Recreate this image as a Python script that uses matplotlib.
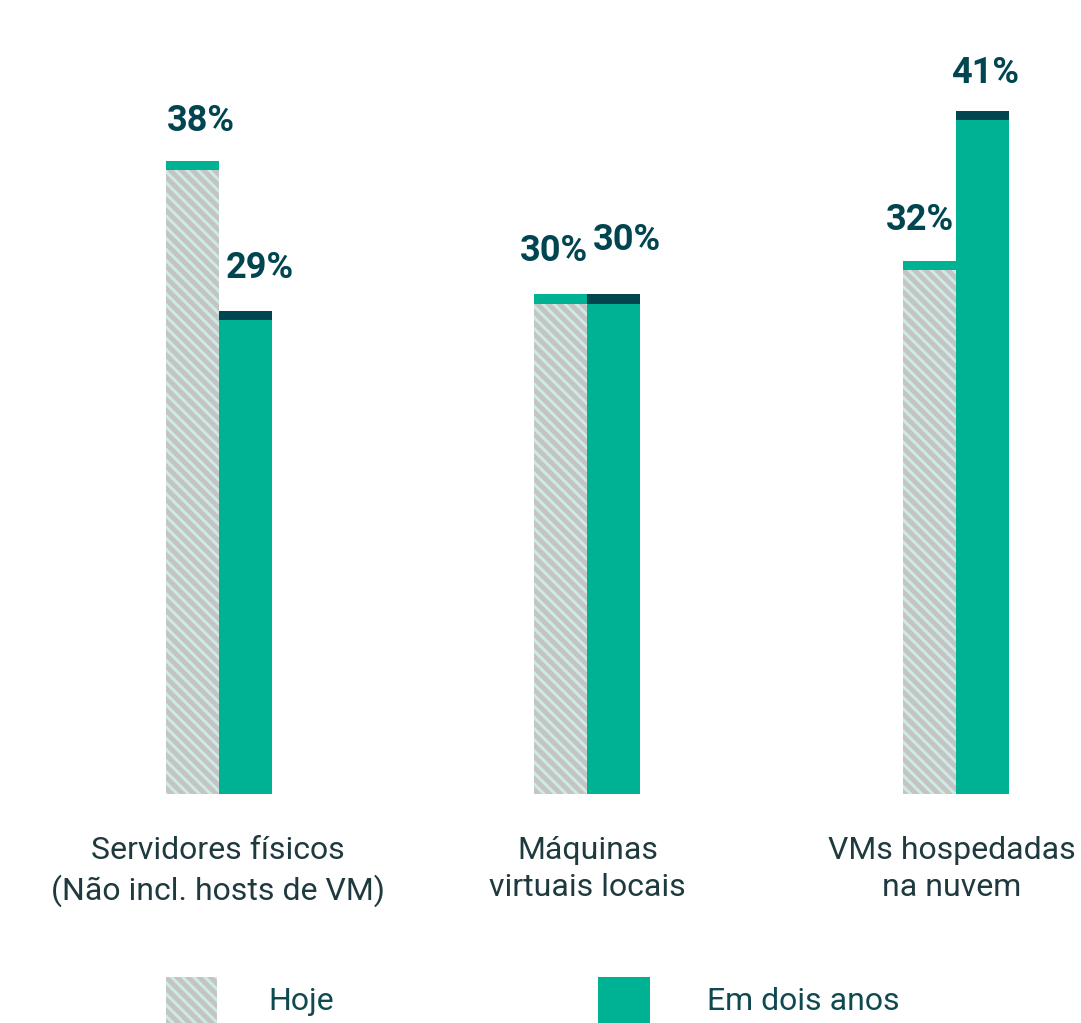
import matplotlib.pyplot as plt
from matplotlib.patches import Rectangle
import numpy as np

plt.rcParams['font.family'] = ['Roboto', 'DejaVu Sans']
plt.rcParams['hatch.linewidth'] = 3.5

# data
categories = ['Servidores físicos\n(Não incl. hosts de VM)',
              'Máquinas\nvirtuais locais',
              'VMs hospedadas\nna nuvem']
hoje = [38, 30, 32]
em_dois_anos = [29, 30, 41]
series_names = ['Hoje', 'Em dois anos']

teal = '#00b294'
dark = '#00454f'
mint = '#cdebe3'
gray = '#c4c4c4'
text_col = '#0f4a50'

# label nudges (points) for each bar
hoje_dx = [6, -5, -7]
em_dx = [10, 9, 2]
hoje_dy = [16, 18, 17]
em_dy = [18, 26, 15]

fig = plt.figure(figsize=(10.81, 10.23), dpi=100, facecolor='w')
ax = fig.add_axes([0, 0.2239, 1, 0.7761])

x = np.arange(len(categories))
w = 0.1438
cap = 0.55  # thickness of the coloured cap on each bar

ax.bar(x - w / 2, hoje, w, color=mint, edgecolor=gray, hatch='\\\\\\', linewidth=0)
ax.bar(x - w / 2, [cap] * len(hoje), w, bottom=np.array(hoje) - cap, color=teal, linewidth=0)
ax.bar(x + w / 2, em_dois_anos, w, color=teal, linewidth=0)
ax.bar(x + w / 2, [cap] * len(em_dois_anos), w, bottom=np.array(em_dois_anos) - cap,
       color=dark, linewidth=0)

for xi, v, dx, dy in zip(x - w / 2, hoje, hoje_dx, hoje_dy):
    ax.annotate(f'{v}%', (xi, v), xytext=(dx, dy), textcoords='offset points',
                ha='center', va='bottom', fontsize=26, fontweight='bold', color=dark)
for xi, v, dx, dy in zip(x + w / 2, em_dois_anos, em_dx, em_dy):
    ax.annotate(f'{v}%', (xi, v), xytext=(dx, dy), textcoords='offset points',
                ha='center', va='bottom', fontsize=26, fontweight='bold', color=dark)

ax.set_xlim(-0.594, 2.339)
ax.set_ylim(0, 794 / 16.65)
ax.axis('off')

# category labels
for xi, c, dx in zip(x, categories, [-1, 0, -3]):
    ax.annotate(c, (xi, 0), xytext=(dx, -30), textcoords='offset points',
                ha='center', va='top', fontsize=23, color='#1e3a3e', linespacing=1.38)

# legend
fig.patches.append(Rectangle((166 / 1081, 0), 51 / 1081, 46 / 1023, transform=fig.transFigure,
                             facecolor=mint, edgecolor=gray, hatch='\\\\\\', linewidth=0))
fig.patches.append(Rectangle((598 / 1081, 0), 52 / 1081, 46 / 1023, transform=fig.transFigure,
                             facecolor=teal, linewidth=0))
fig.text(268 / 1081, 21 / 1023, series_names[0], fontsize=23, color=text_col, va='center')
fig.text(707 / 1081, 21 / 1023, series_names[1], fontsize=23, color=text_col, va='center')

fig.savefig('out.png', dpi=100, facecolor='w')
